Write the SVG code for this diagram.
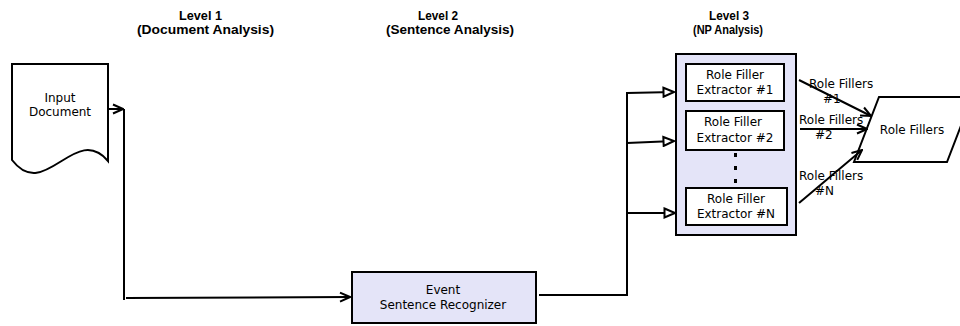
<svg xmlns="http://www.w3.org/2000/svg" width="960" height="326" viewBox="0 0 960 326">
<defs>
<marker id="open" markerWidth="12" markerHeight="12" refX="11" refY="6" orient="auto" markerUnits="userSpaceOnUse">
<path d="M1,1.5 L11,6 L1,10.5" fill="none" stroke="#000" stroke-width="2"/>
</marker>
<marker id="tri" markerWidth="14" markerHeight="12" refX="12" refY="6" orient="auto" markerUnits="userSpaceOnUse">
<path d="M1.5,1.5 L12,6 L1.5,10.5 Z" fill="#fff" stroke="#000" stroke-width="2"/>
</marker>
</defs>
<style>
.hdr{font-family:"Liberation Sans",Arial,sans-serif;font-weight:bold;font-size:12px;fill:#000}
.t{font-family:"DejaVu Sans",sans-serif;font-size:12px;fill:#000}
.m{text-anchor:middle}
.box{fill:#fff;stroke:#000;stroke-width:2}
.lav{fill:#e4e4f8;stroke:#000;stroke-width:2}
.ln{fill:none;stroke:#000;stroke-width:2}
</style>
<rect width="960" height="326" fill="#fff"/>
<g id="headers">
<text class="hdr" x="179" y="20" textLength="43" lengthAdjust="spacingAndGlyphs">Level 1</text>
<text class="hdr" x="137" y="34" textLength="137" lengthAdjust="spacingAndGlyphs">(Document Analysis)</text>
<text class="hdr" x="418" y="20" textLength="40" lengthAdjust="spacingAndGlyphs">Level 2</text>
<text class="hdr" x="386" y="34" textLength="128" lengthAdjust="spacingAndGlyphs">(Sentence Analysis)</text>
<text class="hdr" x="709" y="20" textLength="40" lengthAdjust="spacingAndGlyphs">Level 3</text>
<text class="hdr" x="693" y="34" textLength="70" lengthAdjust="spacingAndGlyphs">(NP Analysis)</text>
</g>
<g id="input-document">
<path class="box" d="M12,64 L108,64 L108,161 C75,122 45,203 12,160 Z"/>
<text class="t m" x="60" y="102">Input</text>
<text class="t m" x="60" y="116">Document</text>
</g>
<g id="event-recognizer">
<rect class="lav" x="352" y="272" width="184" height="51"/>
<text class="t m" x="443" y="294">Event</text>
<text class="t m" x="443" y="309">Sentence Recognizer</text>
</g>
<g id="level3">
<rect class="lav" x="676" y="54" width="120" height="181"/>
</g>
<g id="extractor-1">
<rect class="box" x="686" y="64" width="98" height="37"/>
<text class="t m" x="735" y="79">Role Filler</text>
<text class="t m" x="735" y="94">Extractor #1</text>
</g>
<g id="extractor-2">
<rect class="box" x="686" y="111" width="98" height="39"/>
<text class="t m" x="733" y="126">Role Filler</text>
<text class="t m" x="735" y="142">Extractor #2</text>
</g>
<g id="dots">
<rect x="734" y="153" width="3" height="4" fill="#000"/>
<rect x="734" y="166" width="3" height="4" fill="#000"/>
<rect x="734" y="179" width="3" height="4" fill="#000"/>
</g>
<g id="extractor-n">
<rect class="box" x="686" y="188" width="101" height="37"/>
<text class="t m" x="736" y="203">Role Filler</text>
<text class="t m" x="736" y="218">Extractor #N</text>
</g>
<g id="role-fillers">
<path class="box" d="M879,97 L972,97 L947,162 L854,162 Z"/>
<text class="t m" x="912" y="134">Role Fillers</text>
</g>
<g id="connectors">
<path class="ln" d="M108,109 L123,109" marker-end="url(#open)"/>
<path class="ln" d="M124,109 L124,300"/>
<path class="ln" d="M126,298 L350,297" marker-end="url(#open)"/>
<path class="ln" d="M539,295 L627,295 L627,92"/>
<path class="ln" d="M627,93 L674,92" marker-end="url(#tri)"/>
<path class="ln" d="M627,143 L674,141" marker-end="url(#tri)"/>
<path class="ln" d="M627,213 L675,213" marker-end="url(#tri)"/>
<path class="ln" d="M799,80 L871,116" marker-end="url(#open)"/>
<path class="ln" d="M800,129 L867,129" marker-end="url(#open)"/>
<path class="ln" d="M799,203 L862,150" marker-end="url(#open)"/>
<text class="t" x="809" y="88">Role Fillers</text>
<text class="t" x="823" y="103">#1</text>
<text class="t" x="799" y="124">Role Fillers</text>
<text class="t" x="815" y="139">#2</text>
<text class="t" x="799" y="180">Role Fillers</text>
<text class="t" x="815" y="195">#N</text>
</g>
</svg>
